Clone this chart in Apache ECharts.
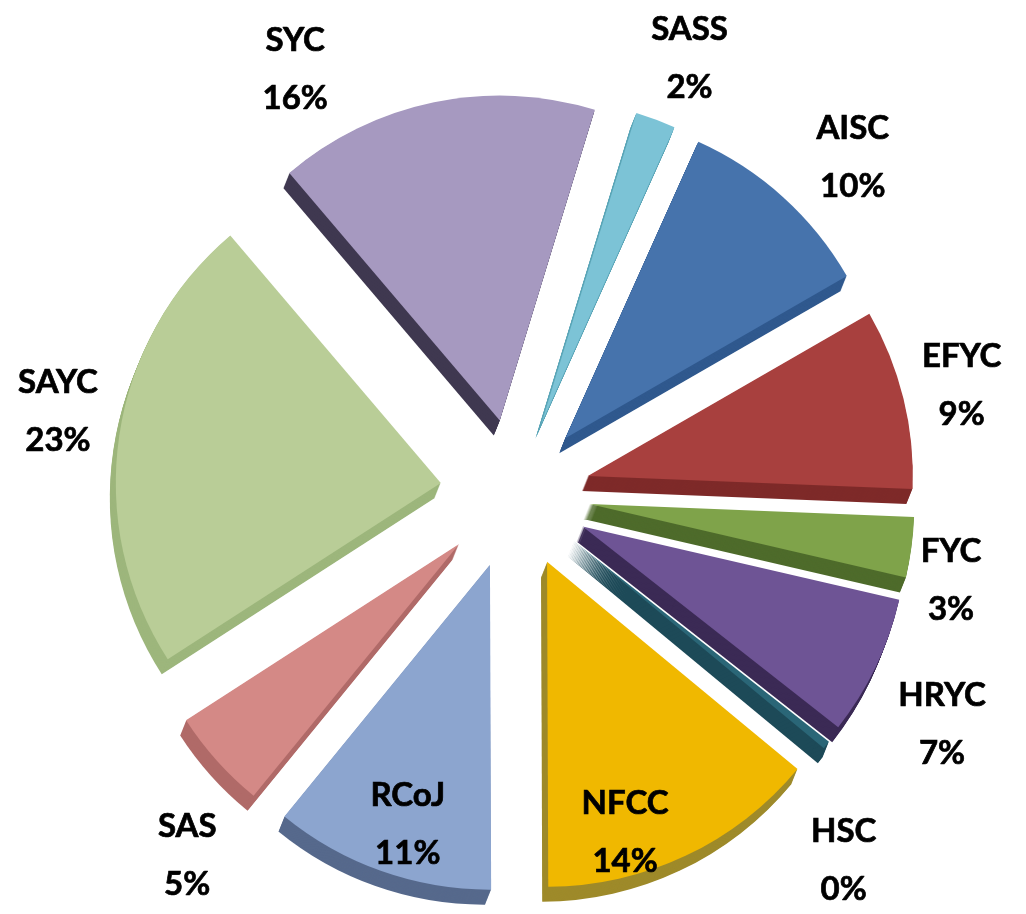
<!DOCTYPE html>
<html>
<head>
<meta charset="utf-8">
<script src="https://cdn.jsdelivr.net/npm/echarts@6/dist/echarts.min.js"></script>
<style>
html, body { margin: 0; padding: 0; background: #fff; }
#chart { width: 1026px; height: 914px; }
</style>
</head>
<body>
<div id="chart"></div>
<script>
// slices, clockwise from just right of 12 o'clock
const categories = ['SASS', 'AISC', 'EFYC', 'FYC', 'HRYC', 'HSC', 'NFCC', 'RCoJ', 'SAS', 'SAYC', 'SYC'];
const shares = [2, 10, 9, 3, 7, 0.4, 14, 11, 5, 23, 16];

const topColors = ['#7CC3D6', '#4673AC', '#A8403E', '#7FA34A', '#6E5495', '#2A6677', '#F0B800', '#8CA5CF', '#D48986', '#B9CD97', '#A699C0'];
const sideColors = ['#5BA6B8', '#30598E', '#7E2A29', '#4E6B2B', '#3B2A55', '#1D4A58', '#9E8A2A', '#56698C', '#B06A68', '#9DB67C', '#3F3850'];

const cx = 515, cy = 494, radius = 325, explode = 75;
const depth = 15;
// how far each label sits past the rim (NFCC / RCoJ sit inside their slice)
const labelLen = [68, 68, 60, 45, 68, 80, -42, -49, 80, 62, 68];
// small hand nudges so labels land where the original put them
const labelShift = [[10, 2], [24, 11], [0, 1], [-5, 27], [5, 28], [-45, 65], [-43, 15], [10, 0], [30, 41], [0, -15], [-125, 34]];

const myChart = echarts.init(document.getElementById('chart'));

const baseData = (colors) => categories.map((name, i) => ({
  name: name,
  value: shares[i],
  selected: true,
  itemStyle: { color: colors[i] }
}));

const series = [];
// side walls: stacked copies shifted down and a little left
for (let k = depth; k >= 1; k--) {
  series.push({
    type: 'pie',
    silent: true,
    center: [cx - k * 0.4, cy + k],
    radius: radius,
    startAngle: 73,
    selectedMode: 'multiple',
    selectedOffset: explode,
    avoidLabelOverlap: false,
    label: { show: false },
    labelLine: { show: false },
    emphasis: { disabled: true },
    data: baseData(sideColors)
  });
}

// top face with labels
series.push({
  type: 'pie',
  center: [cx, cy],
  radius: radius,
  startAngle: 73,
  selectedMode: 'multiple',
  selectedOffset: explode,
  avoidLabelOverlap: false,
  emphasis: { disabled: true },
  label: {
    show: true,
    position: 'outside',
    fontFamily: 'Lato',
    fontWeight: 'bold',
    fontSize: 33,
    lineHeight: 58,
    color: '#000',
    textBorderColor: '#000',
    textBorderWidth: 0.7,
    distanceToLabelLine: 0,
    formatter: (p) => p.name + '\n' + Math.round(p.value) + '%'
  },
  labelLine: { show: false, length: 68, length2: 0 },
  labelLayout: (params) => ({
    align: 'center',
    verticalAlign: 'middle',
    dx: labelShift[params.dataIndex][0],
    dy: labelShift[params.dataIndex][1]
  }),
  data: categories.map((name, i) => ({
    name: name,
    value: shares[i],
    selected: true,
    itemStyle: { color: topColors[i] },
    labelLine: { show: false, length: labelLen[i], length2: 0 }
  }))
});

const option = {
  backgroundColor: '#fff',
  animation: false,
  series: series
};
myChart.setOption(option);
</script>
</body>
</html>
